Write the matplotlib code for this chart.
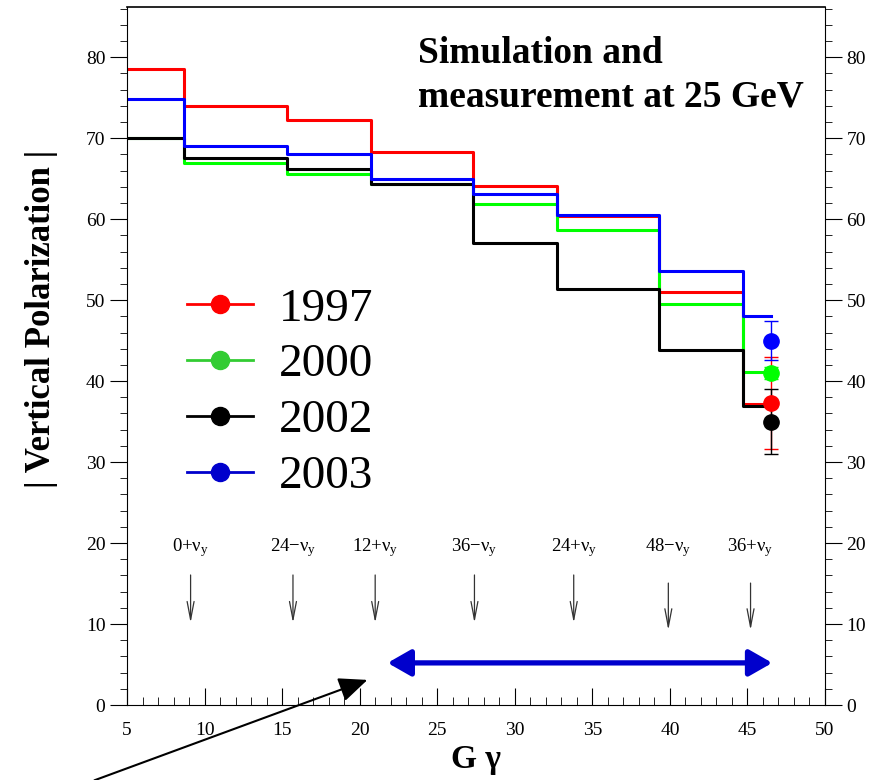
import numpy as np
import matplotlib.pyplot as plt
from matplotlib.lines import Line2D

plt.rcParams.update({
    "font.family": "serif",
    "font.serif": ["Liberation Serif", "DejaVu Serif"],
    "mathtext.default": "regular",
})

# resonance crossings (step edges) in G gamma, with nu_y = 8.7
edges = [5.0, 8.7, 15.3, 20.7, 27.3, 32.7, 39.3, 44.7, 46.5]

years = ["1997", "2000", "2002", "2003"]
line_colors = ["#FF0000", "#00FF00", "#000000", "#0000FF"]
legend_colors = ["#FF0000", "#33CC33", "#000000", "#0000CC"]

# simulated polarization after each crossing (%)
pol_1997 = [78.5, 74.0, 72.2, 68.3, 64.1, 60.4, 51.0, 37.2]
pol_2000 = [70.0, 66.9, 65.6, 64.4, 61.9, 58.6, 49.5, 41.1]
pol_2002 = [70.0, 67.6, 66.2, 64.3, 57.0, 51.4, 43.9, 36.9]
pol_2003 = [74.9, 69.0, 68.0, 65.0, 63.1, 60.5, 53.6, 48.1]
simulated = [pol_1997, pol_2000, pol_2002, pol_2003]

# measured values at 25 GeV
meas_x = 46.5
meas_val = [37.3, 41.0, 35.0, 45.0]
meas_err = [5.7, 0.8, 4.0, 2.4]

# resonance labels and arrow positions
res_labels = ["0+ν$_y$", "24−ν$_y$", "12+ν$_y$", "36−ν$_y$", "24+ν$_y$", "48−ν$_y$", "36+ν$_y$"]
res_x = [9.1, 15.7, 21.0, 27.4, 33.8, 39.9, 45.2]
res_top = [16.4, 16.4, 16.4, 16.4, 16.4, 15.4, 15.4]
res_tip = [9.8, 9.8, 9.8, 9.8, 9.8, 8.9, 8.9]

fig = plt.figure(figsize=(8.73, 7.8), dpi=100)
ax = fig.add_axes([127 / 873, 75 / 780, 698 / 873, 698 / 780])
ax.set_xlim(5, 50)
ax.set_ylim(0, 86.2)

for vals, c in zip(simulated, line_colors):
    ax.step(edges, vals + [vals[-1]], where="post", color=c, lw=2.2)

for v, e, c in zip(meas_val, meas_err, line_colors):
    ax.errorbar(meas_x, v, yerr=e, fmt="o", color=c, ms=11, lw=1, capsize=5,
                capthick=1, zorder=4)

for lab, x, top, tip in zip(res_labels, res_x, res_top, res_tip):
    ax.text(x, 19.5, lab, ha="center", va="center", fontsize=13.5)
    ax.annotate("", xy=(x, tip), xytext=(x, top),
                arrowprops=dict(arrowstyle="->,head_length=1.3,head_width=0.25",
                                color="#333333", lw=0.9))

# accessible range at 25 GeV
ax.annotate("", xy=(46.6, 5.2), xytext=(21.8, 5.2),
            arrowprops=dict(arrowstyle="<|-|>,head_length=0.7,head_width=0.4",
                            color="#0000CC", lw=3.8, mutation_scale=20,
                            shrinkA=0, shrinkB=0))
ax.annotate("", xy=(20.5, 3.1), xytext=(2.9, -9.3), annotation_clip=False,
            arrowprops=dict(arrowstyle="-|>,head_length=0.7,head_width=0.3",
                            color="black", lw=1.5, mutation_scale=25,
                            shrinkA=0, shrinkB=0))

ax.text(0.417, 0.958, "Simulation and\nmeasurement at 25 GeV", transform=ax.transAxes,
        ha="left", va="top", fontsize=27, fontweight="bold", linespacing=1.3)

handles = [Line2D([], [], color=c, lw=2, marker="o", ms=13) for c in legend_colors]
ax.legend(handles, years, loc="upper left", bbox_to_anchor=(0.086, 0.598),
          frameon=False, fontsize=34, handlelength=1.4, handletextpad=0.55,
          labelspacing=0.27, borderpad=0, borderaxespad=0)

# axes: bottom ticks inward, y ticks outward on both sides
ax.spines["top"].set_linewidth(1.2)
ax.set_xticks(np.arange(5, 51, 5))
ax.set_xticks(np.arange(5, 51, 1), minor=True)
ax.set_yticks(np.arange(0, 81, 10))
ax.set_yticks(np.arange(0, 87, 2), minor=True)
ax.tick_params(axis="x", which="both", direction="in", top=False, labelsize=14, pad=12)
ax.tick_params(axis="x", which="major", length=12)
ax.tick_params(axis="x", which="minor", length=6)
ax.tick_params(axis="y", which="both", direction="out", left=True, right=True,
               labelleft=True, labelright=True, labelsize=14)
ax.tick_params(axis="y", which="major", length=12)
ax.tick_params(axis="y", which="minor", length=5)

ax.set_xlabel("G γ", fontsize=24, fontweight="bold", labelpad=4)
ax.set_ylabel("| Vertical Polarization |", fontsize=25, fontweight="bold")
ax.yaxis.set_label_coords(-0.099, 0.553)

fig.savefig("out.png", dpi=100)
